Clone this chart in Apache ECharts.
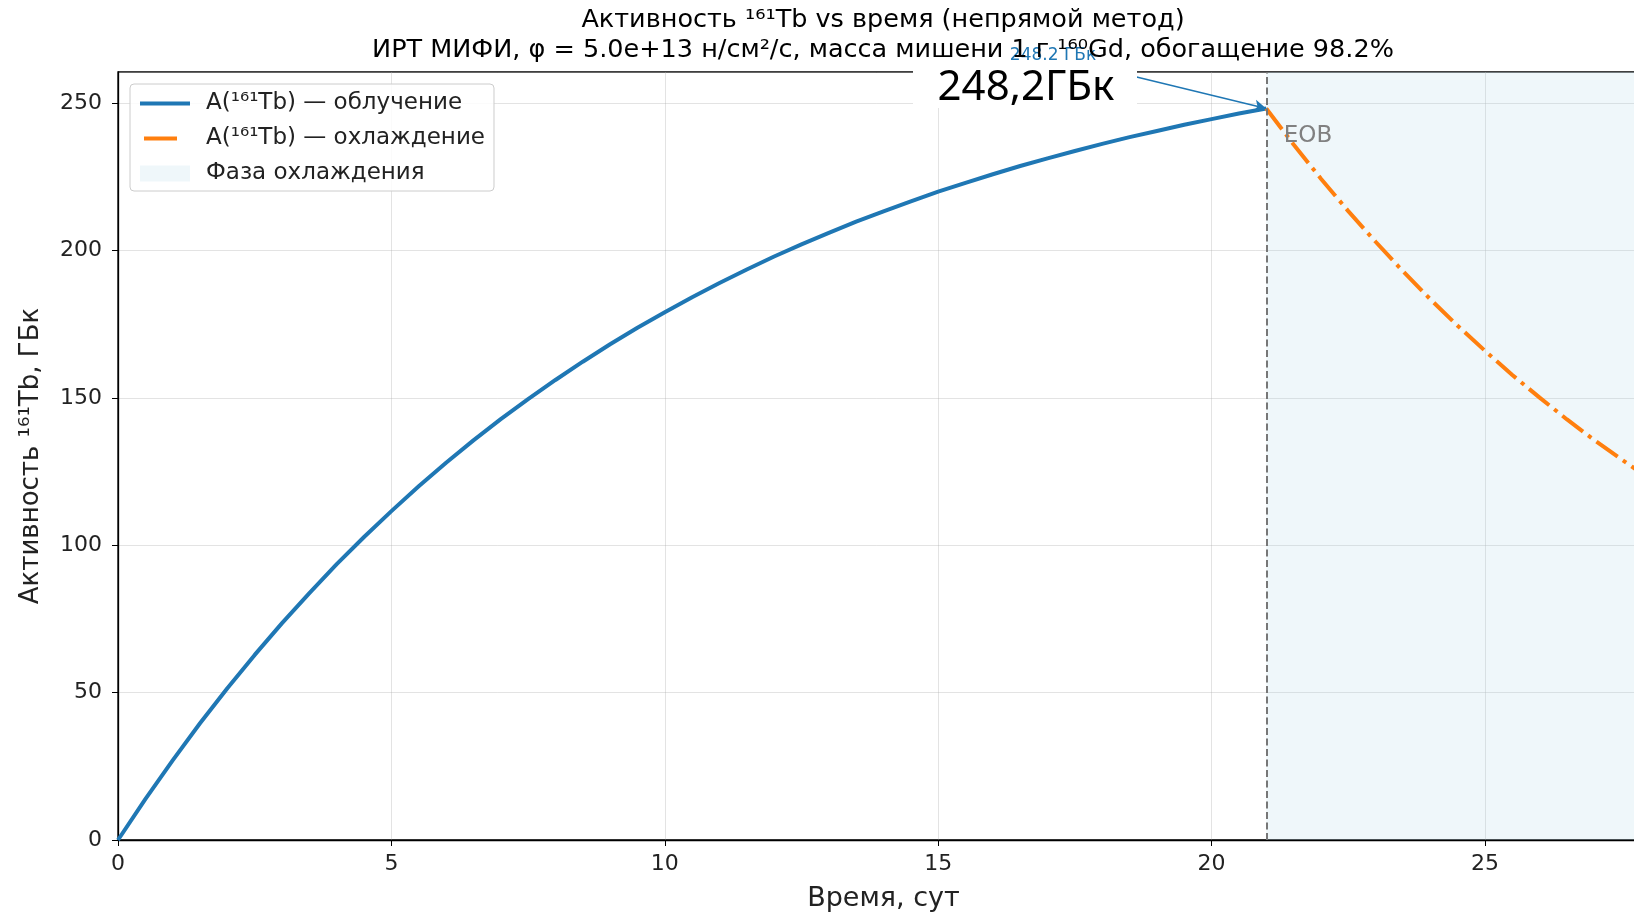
<!DOCTYPE html>
<html>
<head>
<meta charset="utf-8">
<script src="https://cdn.jsdelivr.net/npm/echarts@6/dist/echarts.min.js"></script>
<style>html,body{margin:0;padding:0;background:#fff}#c{width:1634px;height:916px}</style>
</head>
<body>
<div id="c"></div>
<script>
// Irradiation phase: time (days) and activity (GBq)
const irrTime = [0,0.5,1,1.5,2,2.5,3,3.5,4,4.5,5,5.5,6,6.5,7,7.5,8,8.5,9,9.5,10,10.5,11,11.5,12,12.5,13,13.5,14,14.5,15,15.5,16,16.5,17,17.5,18,18.5,19,19.5,20,20.5,21];
const irrActivity = [0,13.9,27.0,39.6,51.5,62.8,73.6,83.8,93.6,102.8,111.6,120.0,128.0,135.6,142.8,149.6,156.1,162.3,168.2,173.8,179.1,184.2,189.0,193.6,198.0,202.1,206.0,209.8,213.3,216.7,220.0,223.0,225.9,228.7,231.3,233.8,236.2,238.5,240.6,242.7,244.6,246.5,248.2];
// Cooling phase
const coolTime = [21,21.5,22,22.5,23,23.5,24,24.5,25,25.5,26,26.5,27,27.5,28];
const coolActivity = [248.2,236.0,224.4,213.4,203.0,193.0,183.5,174.5,166.0,157.8,150.1,142.7,135.7,129.1,122.7];
const xTicks = [0,5,10,15,20,25];
const yTicks = [0,50,100,150,200,250];
const eobTime = 21;
const eobActivity = 248.2;
const xMax = 28;
const yMax = 260.6;

const zip = (a,b)=>a.map((v,i)=>[v,b[i]]);
const chart = echarts.init(document.getElementById('c'), null, {renderer:'canvas'});
const FONT = 'DejaVu Sans';
const nameIrr = 'A(¹⁶¹Tb) — облучение';
const nameCool = 'A(¹⁶¹Tb) — охлаждение';
const nameSpan = 'Фаза охлаждения';

const option = {
  animation:false,
  textStyle:{fontFamily:FONT,color:'#000'},
  grid:{left:118, top:72, width:1531, height:768, show:true, borderColor:'#000', borderWidth:1.3,
    backgroundColor:'transparent', outerBoundsMode:'none', containLabel:false},
  xAxis:{type:'value', min:0, max:xMax, interval:5,
    name:'Время, сут', nameLocation:'middle', nameGap:45,
    nameTextStyle:{fontSize:27, color:'#222', fontFamily:FONT},
    axisLine:{onZero:false, lineStyle:{color:'#000', width:1.3}},
    axisTick:{show:true, inside:false, length:6, lineStyle:{color:'#000'}},
    axisLabel:{fontSize:22, color:'#222', margin:13, formatter:v=>xTicks.includes(v)?String(v):''},
    splitLine:{show:true, lineStyle:{color:'#b0b0b0', opacity:0.35, width:1}}
  },
  yAxis:{type:'value', min:0, max:yMax, interval:50,
    name:'Активность ¹⁶¹Tb, ГБк', nameLocation:'middle', nameGap:74, nameRotate:90,
    nameTextStyle:{fontSize:26, color:'#222', fontFamily:FONT},
    axisLine:{onZero:false, lineStyle:{color:'#000', width:1.3}},
    axisTick:{show:true, inside:false, length:6, lineStyle:{color:'#000'}},
    axisLabel:{fontSize:22, color:'#222', margin:16, showMaxLabel:false, formatter:v=>yTicks.includes(v)?String(v):''},
    splitLine:{show:true, lineStyle:{color:'#b0b0b0', opacity:0.35, width:1}}
  },
  legend:{
    orient:'vertical', left:130, top:84, padding:[8,9,6,8],
    itemWidth:50, itemHeight:16, itemGap:12,
    backgroundColor:'rgba(255,255,255,0.85)', borderColor:'#cccccc', borderWidth:1, borderRadius:4,
    textStyle:{fontSize:23, color:'#222', fontFamily:FONT, padding:[0,0,0,11]},
    data:[
      {name:nameIrr, lineStyle:{width:4}, itemStyle:{opacity:0}},
      {name:nameCool, lineStyle:{width:4, type:[33,100], dashOffset:-4}, itemStyle:{opacity:0}},
      {name:nameSpan, icon:'rect'}
    ]
  },
  series:[
    {name:nameIrr, type:'line', data:zip(irrTime, irrActivity), showSymbol:false, symbol:'none',
      lineStyle:{color:'#1f77b4', width:4}, itemStyle:{color:'#1f77b4'}, z:4,
      markLine:{silent:true, symbol:['none','arrow'], symbolSize:[9,12],
        lineStyle:{color:'#1f77b4', width:1.5, type:'solid'}, label:{show:false},
        data:[[{coord:[18.61, 259.0]},{coord:[eobTime, eobActivity]}]]}
    },
    {name:nameCool, type:'line', data:zip(coolTime, coolActivity), showSymbol:false, symbol:'none',
      lineStyle:{color:'#ff7f0e', width:4, type:[26,6.4,4,6.4]}, itemStyle:{color:'#ff7f0e'}, z:4,
      markLine:{silent:true, symbol:['none','none'], label:{show:false},
        lineStyle:{color:'#777777', width:2, type:[7,3.5]},
        data:[{xAxis:eobTime}]},
      markPoint:{silent:true, symbol:'circle', symbolSize:0,
        label:{show:true, position:'right', distance:0, formatter:'EOB', fontSize:23, color:'#808080', fontFamily:FONT},
        data:[{coord:[21.32, 238.9]}]}
    },
    {name:nameSpan, type:'bar', data:[], itemStyle:{color:'rgba(173,216,230,0.2)'},
      markArea:{silent:true, itemStyle:{color:'rgba(173,216,230,0.2)'},
        data:[[{xAxis:eobTime},{xAxis:xMax}]]}
    }
  ],
  graphic:[
    {type:'text', x:1053, y:64, z:1, style:{text:'248.2 ГБк', fill:'#1f77b4', font:'17px "DejaVu Sans"', textAlign:'center', textVerticalAlign:'bottom'}},
    {type:'text', x:883, y:20, z:10, style:{text:'Активность ¹⁶¹Tb vs время (непрямой метод)', fill:'#000', font:'25.5px "DejaVu Sans"', textAlign:'center', textVerticalAlign:'middle'}},
    {type:'text', x:883, y:50, z:10, style:{text:'ИРТ МИФИ, φ = 5.0e+13 н/см²/с, масса мишени 1 г ¹⁶⁰Gd, обогащение 98.2%', fill:'#000', font:'25.5px "DejaVu Sans"', textAlign:'center', textVerticalAlign:'middle'}},
    {type:'rect', x:913, y:71, z:20, shape:{width:224, height:37}, style:{fill:'#fff'}},
    {type:'text', x:1026, y:88, z:21, style:{text:'248,2ГБк', fill:'#000', font:'42px "Noto Sans"', textAlign:'center', textVerticalAlign:'middle'}}
  ]
};
chart.setOption(option);
</script>
</body>
</html>
